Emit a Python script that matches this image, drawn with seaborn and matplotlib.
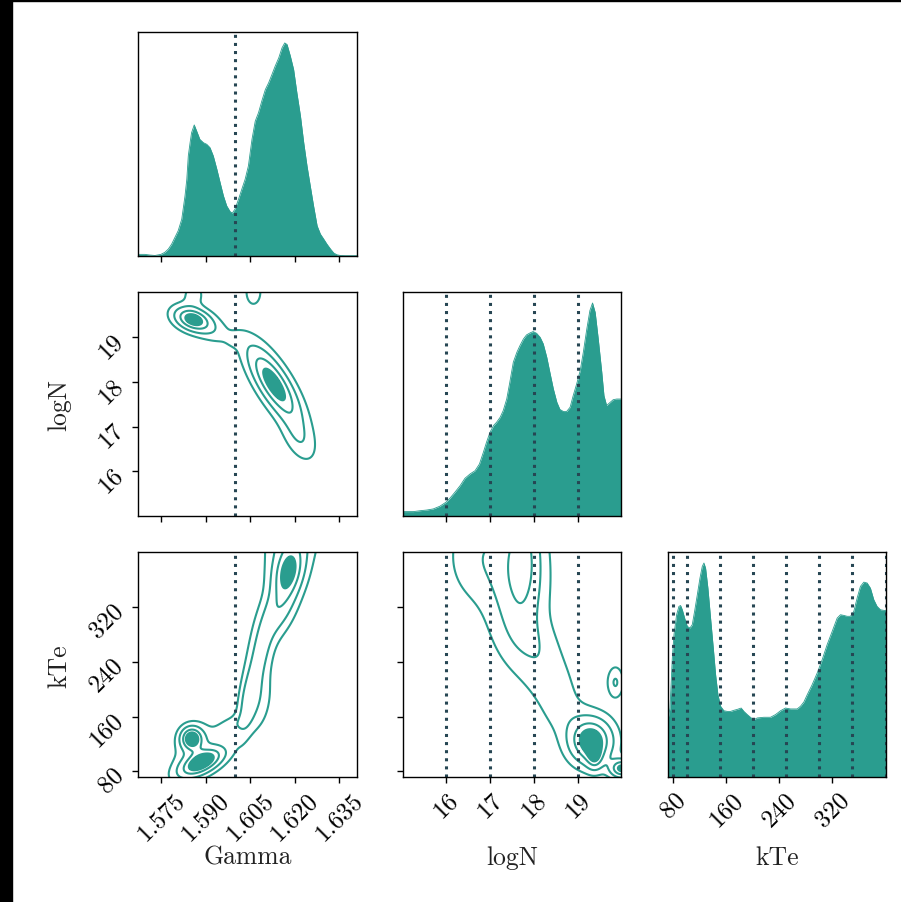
import numpy as np
import matplotlib
matplotlib.use("Agg")
import matplotlib.pyplot as plt
import seaborn as sns
from matplotlib.patches import Rectangle
from matplotlib.ticker import FixedLocator, FormatStrFormatter, NullFormatter

# ---------------------------------------------------------------- data
PARAMS = ["Gamma", "logN", "kTe"]

# 1-D marginal posteriors (relative density)
gamma_grid = [1.5674, 1.5696, 1.5713, 1.5730, 1.5750, 1.5763, 1.5775, 1.5786, 1.5797,
              1.5808, 1.5820, 1.5831, 1.5837, 1.5842, 1.5848, 1.5853, 1.5862, 1.5870,
              1.5881, 1.5893, 1.5904, 1.5915, 1.5926, 1.5938, 1.5949, 1.5960, 1.5971,
              1.5983, 1.5990, 1.5999, 1.6011, 1.6022, 1.6033, 1.6044, 1.6056, 1.6067,
              1.6078, 1.6089, 1.6101, 1.6112, 1.6123, 1.6134, 1.6146, 1.6157, 1.6166,
              1.6174, 1.6185, 1.6196, 1.6207, 1.6219, 1.6230, 1.6241, 1.6252, 1.6263,
              1.6275, 1.6286, 1.6297, 1.6308, 1.6320, 1.6331, 1.6342, 1.6353, 1.6370,
              1.6398, 1.6410]
gamma_dens = [0.6, 0.6, 0.3, 0.1, 0.6, 1.5, 3.0, 5.2, 8.2,
              11.2, 16.4, 26.9, 34.3, 44.8, 50.7, 55.2, 58.7, 56.0,
              52.2, 50.7, 50.0, 48.5, 44.8, 38.8, 32.8, 26.9, 22.4,
              19.7, 19.1, 20.9, 25.4, 29.9, 34.3, 40.3, 52.2, 60.4,
              64.2, 69.4, 74.6, 77.6, 81.3, 85.1, 88.8, 93.3, 95.5,
              94.8, 89.6, 83.6, 73.1, 62.7, 50.7, 40.3, 31.3, 22.4,
              13.4, 9.7, 7.5, 5.2, 3.0, 1.2, 0.4, 0.1, 0.0,
              0.0, 0.0]

logn_grid = [15.03, 15.26, 15.41, 15.56, 15.71, 15.86, 16.00, 16.09, 16.20, 16.32,
             16.43, 16.55, 16.66, 16.76, 16.85, 16.92, 17.00, 17.08, 17.15, 17.23,
             17.30, 17.38, 17.45, 17.53, 17.61, 17.68, 17.76, 17.83, 17.91, 17.98,
             18.06, 18.14, 18.21, 18.29, 18.36, 18.44, 18.52, 18.59, 18.67, 18.74,
             18.82, 18.89, 18.97, 19.05, 19.12, 19.20, 19.27, 19.33, 19.39, 19.46,
             19.54, 19.59, 19.65, 19.73, 19.80, 19.88, 19.97]
logn_dens = [2.1, 2.1, 2.5, 2.8, 3.3, 4.5, 6.3, 8.1, 10.7, 13.7,
             17.0, 19.0, 20.4, 23.4, 28.7, 33.1, 37.6, 40.6, 42.1, 44.3,
             47.3, 52.5, 60.0, 69.0, 73.4, 76.4, 79.4, 81.2, 82.1, 82.7,
             81.9, 80.1, 77.2, 71.2, 64.5, 57.0, 51.0, 47.8, 46.9, 46.9,
             48.8, 54.0, 59.3, 65.2, 73.4, 83.9, 92.1, 95.5, 91.3, 79.4,
             64.5, 54.0, 49.6, 51.0, 52.2, 52.5, 52.5]

kte_grid = [72.0, 75.0, 78.5, 81.0, 85.0, 88.5, 91.0, 93.6, 97.1, 101.1,
            105.1, 108.6, 112.1, 116.2, 120.2, 123.7, 126.2, 128.7, 132.2, 136.2,
            140.3, 143.8, 147.3, 151.3, 156.3, 161.4, 166.4, 171.4, 176.4, 182.4,
            186.5, 191.5, 197.5, 201.5, 206.6, 216.6, 226.6, 234.2, 241.7, 249.2,
            256.8, 266.8, 271.8, 276.9, 281.9, 289.4, 297.0, 304.5, 312.0, 319.6,
            327.1, 332.1, 337.1, 342.2, 347.2, 352.2, 357.2, 362.2, 367.3, 372.3,
            377.3, 382.3, 387.3, 392.4, 398.4, 400.3]
kte_dens = [25.6, 30.8, 53.0, 63.4, 72.3, 76.0, 76.4, 74.5, 70.8, 67.1,
            66.4, 67.9, 73.8, 81.2, 88.6, 93.8, 95.3, 93.0, 84.1, 70.8,
            57.5, 45.6, 36.7, 31.6, 29.6, 29.3, 29.3, 29.8, 30.2, 30.8,
            29.3, 27.9, 26.4, 25.6, 26.4, 26.7, 26.7, 27.9, 29.6, 30.8,
            30.4, 30.4, 31.6, 33.5, 36.7, 41.2, 46.4, 52.3, 59.0, 64.9,
            70.8, 72.3, 72.0, 71.6, 71.6, 73.8, 79.7, 84.9, 86.8, 86.4,
            84.1, 79.0, 76.0, 74.5, 74.2, 74.2]

# reference values marked with dotted lines
gamma_marks = [1.6]
logn_marks = [16, 17, 18, 19]
kte_marks = [80, 100, 150, 200, 250, 300, 350, 400]

# 2-D posterior modes: (x, y, sigma_x, sigma_y, rho, amplitude)
gamma_logn_modes = [
    (1.6130, 17.95, 0.00575, 0.55, -0.765, 1.00),
    (1.6212, 16.75, 0.0037, 0.35, -0.50, 0.25),
    (1.6005, 18.95, 0.0020, 0.10, 0.00, 0.15),
    (1.5856, 19.40, 0.0040, 0.175, -0.30, 0.87),
    (1.5905, 19.22, 0.0055, 0.25, -0.60, 0.22),
    (1.5860, 19.95, 0.0025, 0.18, 0.00, 0.18),
    (1.6061, 20.00, 0.0018, 0.20, 0.00, 0.25),
]
gamma_kte_modes = [
    (1.5853, 128.0, 0.0024, 11.0, 0.00, 0.95),
    (1.5888, 93.0, 0.0050, 14.0, 0.60, 1.00),
    (1.5870, 112.0, 0.0050, 25.0, 0.30, 0.25),
    (1.5985, 145.0, 0.0035, 12.0, 0.50, 0.20),
    (1.6075, 180.0, 0.0032, 30.0, 0.30, 0.22),
    (1.6040, 180.0, 0.0022, 35.0, 0.50, 0.33),
    (1.6085, 255.0, 0.0030, 40.0, 0.50, 0.38),
    (1.6150, 320.0, 0.0040, 30.0, 0.50, 0.45),
    (1.6178, 372.0, 0.0035, 25.0, 0.30, 0.75),
    (1.6195, 430.0, 0.0055, 40.0, 0.30, 0.45),
]
logn_kte_modes = [
    (19.30, 124.0, 0.32, 22.0, 0.00, 1.05),
    (19.38, 100.0, 0.12, 12.0, 0.00, 0.45),
    (20.00, 84.0, 0.18, 9.0, 0.00, 0.90),
    (19.85, 210.0, 0.12, 15.0, 0.00, 0.32),
    (18.70, 160.0, 0.40, 28.0, -0.30, 0.15),
    (18.35, 215.0, 0.42, 30.0, -0.30, 0.17),
    (18.00, 268.0, 0.42, 30.0, -0.30, 0.17),
    (17.60, 360.0, 0.45, 70.0, 0.00, 0.42),
    (17.75, 400.0, 0.25, 60.0, 0.00, 0.40),
    (16.70, 395.0, 0.45, 45.0, 0.00, 0.22),
]
contour_levels = [0.11, 0.30, 0.58, 0.82]

gamma_ticks = [1.575, 1.590, 1.605, 1.620, 1.635]
logn_ticks = [16, 17, 18, 19]
kte_ticks = [80, 160, 240, 320]

# ---------------------------------------------------------------- style
FILL = "#2a9d8f"
MARK = "#264653"

sns.set_theme(style="ticks")
plt.rcParams.update({
    "font.family": ["cmr10", "DejaVu Serif"],
    "mathtext.fontset": "cm",
    "axes.formatter.use_mathtext": True,
    "axes.edgecolor": "black",
    "axes.linewidth": 1.0,
    "xtick.color": "black",
    "ytick.color": "black",
    "xtick.labelsize": 18,
    "ytick.labelsize": 18,
    "axes.labelsize": 18.5,
    "axes.labelcolor": "#222222",
})

W, H = 901, 903
fig = plt.figure(figsize=(W / 100, H / 100), dpi=100)
fig.patch.set_facecolor("white")
fig.patches.append(Rectangle((0, 0), 12 / W, 1, transform=fig.transFigure,
                             color="black", zorder=-10))
fig.patches.append(Rectangle((0, 1 - 2 / H), 1, 2 / H, transform=fig.transFigure,
                             color="black", zorder=-10))

cols = [(138.3, 219.0), (403.3, 217.4), (668.0, 217.7)]
rows = [(33.3, 223.4), (293.3, 224.0), (553.3, 225.0)]

xlims = [(1.5674, 1.6410), (15.03, 19.97), (72.0, 400.3)]
ylims = [None, (15.0, 20.0), (71.0, 400.5)]
ticks = [gamma_ticks, logn_ticks, kte_ticks]
fmts = ["%.3f", "%d", "%d"]
marks = [gamma_marks, logn_marks, kte_marks]


def add_panel(i, j):
    x0, w = cols[j]
    y0, h = rows[i]
    return fig.add_axes([x0 / W, 1 - (y0 + h) / H, w / W, h / H])


def density(xs, ys, modes):
    X, Y = np.meshgrid(xs, ys)
    Z = np.zeros_like(X)
    for mx, my, sx, sy, r, a in modes:
        dx = (X - mx) / sx
        dy = (Y - my) / sy
        q = (dx ** 2 - 2 * r * dx * dy + dy ** 2) / (1 - r ** 2)
        Z += a * np.exp(-0.5 * q)
    return X, Y, Z


def style_axis(ax, i, j):
    ax.set_xlim(*xlims[j])
    ax.xaxis.set_major_locator(FixedLocator(ticks[j]))
    if i == 2:
        ax.xaxis.set_major_formatter(FormatStrFormatter(fmts[j]))
        for lab in ax.get_xticklabels():
            lab.set_rotation(45)
        ax.set_xlabel(PARAMS[j])
        ax.xaxis.set_label_coords(0.5, -0.30)
    else:
        ax.xaxis.set_major_formatter(NullFormatter())
    if i == j:
        ax.set_yticks([])
    else:
        ax.set_ylim(*ylims[i])
        ax.yaxis.set_major_locator(FixedLocator(ticks[i]))
        if j == 0:
            ax.yaxis.set_major_formatter(FormatStrFormatter(fmts[i]))
            for lab in ax.get_yticklabels():
                lab.set_rotation(45)
            ax.set_ylabel(PARAMS[i])
            ax.yaxis.set_label_coords(-0.305, 0.5)
        else:
            ax.yaxis.set_major_formatter(NullFormatter())
    ax.tick_params(direction="out", length=4, width=1.0)


marg = [(gamma_grid, gamma_dens), (logn_grid, logn_dens), (kte_grid, kte_dens)]
for k, (xg, dg) in enumerate(marg):
    ax = add_panel(k, k)
    ax.fill_between(xg, 0, dg, color=FILL, lw=0)
    sns.lineplot(x=xg, y=dg, ax=ax, color=FILL, lw=0.6, sort=False)
    ax.set_ylim(0, max(dg) * 1.05)
    for v in marks[k]:
        ax.axvline(v, color=MARK, ls=":", lw=2.2)
    style_axis(ax, k, k)

pairs = {(1, 0): gamma_logn_modes, (2, 0): gamma_kte_modes, (2, 1): logn_kte_modes}
for (i, j), modes in pairs.items():
    ax = add_panel(i, j)
    xl, yl = xlims[j], ylims[i]
    ex, ey = (xl[1] - xl[0]) * 0.3, (yl[1] - yl[0]) * 0.3
    xs = np.linspace(xl[0] - ex, xl[1] + ex, 400)
    ys = np.linspace(yl[0] - ey, yl[1] + ey, 400)
    X, Y, Z = density(xs, ys, modes)
    top = max(Z.max(), contour_levels[-1]) * 1.01
    ax.contourf(X, Y, Z, levels=[contour_levels[-1], top], colors=[FILL])
    ax.contour(X, Y, Z, levels=contour_levels, colors=FILL, linewidths=1.5)
    for v in marks[j]:
        ax.axvline(v, color=MARK, ls=":", lw=2.2)
    style_axis(ax, i, j)

fig.savefig("out.png", dpi=100, facecolor="white")
